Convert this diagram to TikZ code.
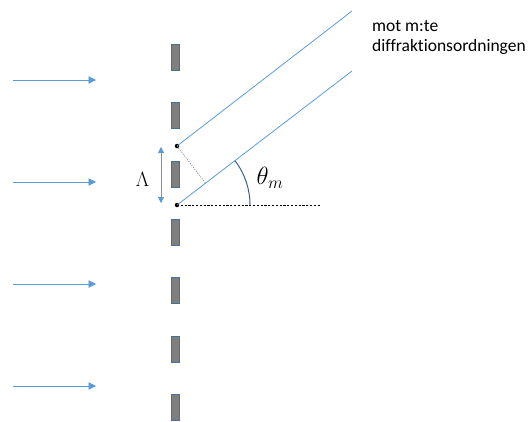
\documentclass[tikz,border=0pt]{standalone}
\usepackage{fontspec}
\setmainfont{Carlito}[Ligatures=NoCommon]
\usetikzlibrary{arrows.meta,calc}
\definecolor{ray}{RGB}{91,155,213}
\definecolor{slitfill}{RGB}{127,127,127}
\definecolor{slitedge}{RGB}{65,113,156}
\definecolor{arcblue}{RGB}{55,96,146}
\begin{document}
\begin{tikzpicture}[x=1pt,y=-1pt,
  slit/.style={rectangle,draw=slitedge,fill=slitfill,line width=0.8pt,minimum width=8pt,minimum height=26pt,inner sep=0pt},
  dot/.style={circle,fill=black,inner sep=0pt,minimum size=4.5pt},
  rayline/.style={draw=ray,line width=0.8pt},
  inarrow/.style={draw=ray,line width=0.8pt,-{Triangle[length=7.5pt,width=7.5pt]},color=ray},
  lbl/.style={inner sep=0pt}]
\useasboundingbox (0,0) rectangle (530,421);
% grating slits
\foreach \i in {0,...,6}
  \node[slit] (s\i) at (175.5,{57.5+58.33*\i}) {};
% incoming arrows
\foreach \y [count=\k] in {80,182,284,386} {
  \coordinate (in\k) at (13,\y);
  \coordinate (out\k) at (96,\y);
  \draw[inarrow] (in\k) -- (out\k);
}
% slit points
\node[dot] (A) at (177,146) {};
\node[dot] (B) at (177,205) {};
\coordinate (Aend) at (352,11);
\coordinate (Bend) at (352,71);
\draw[rayline] (A.center) -- (Aend);
\draw[rayline] (B.center) -- (Bend);
% perpendicular
\coordinate (F) at ($(B.center)!(A.center)!(Bend)$);
\draw[gray,line width=0.6pt,dash pattern=on 1.2pt off 1.2pt] (A.center) -- (F);
% horizontal reference
\coordinate (H) at (320,205);
\draw[black,line width=0.7pt,dash pattern=on 2.2pt off 1.6pt] (B.center) -- (H);
% angle arc
\draw[arcblue,line width=1pt] ($(B.center)+(73,0)$) arc[start angle=0,end angle=37.5,radius=73pt];
\node[lbl] (theta) at (270,177.5) {\fontsize{25}{30}\selectfont$\theta_m$};
% period arrow
\coordinate (LT) at (161,147);
\coordinate (LB) at (161,203);
\draw[draw=ray,line width=0.8pt,{Triangle[length=6pt,width=6pt]}-{Triangle[length=6pt,width=6pt]},color=ray] (LT) -- (LB);
\node[lbl] (Lam) at (142.5,179.5) {\fontsize{19.5}{23}\selectfont$\Lambda$};
% label
\node[lbl,anchor=north west,align=left,font=\fontsize{17.5}{20}\selectfont] (txt) at (372,20.5) {mot m:te\\diffraktionsordningen};
\end{tikzpicture}
\end{document}
